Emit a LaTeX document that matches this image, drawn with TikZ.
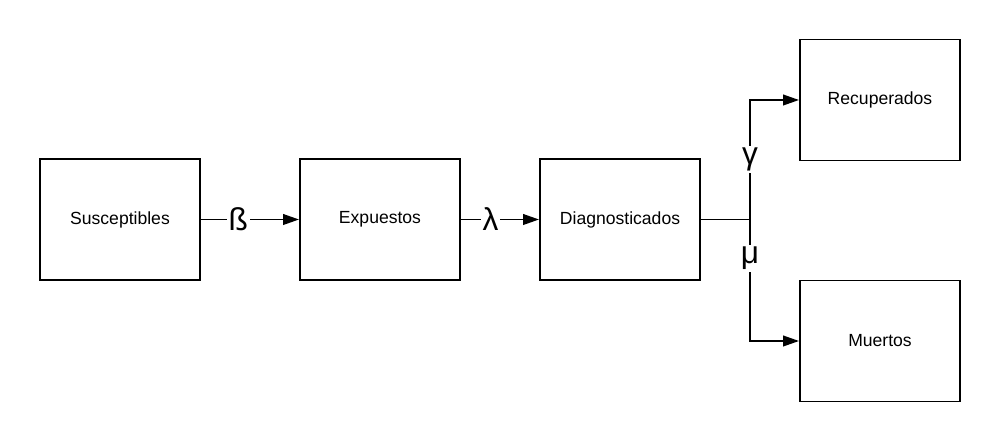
\documentclass[tikz,border=0pt]{standalone}
\usepackage{fontspec}
\setmainfont{Liberation Sans}
\usetikzlibrary{arrows.meta}
\tikzset{
  caja/.style={draw,line width=1.1pt,minimum width=3.2cm,minimum height=2.42cm,font=\fontsize{10}{12}\selectfont},
  flecha/.style={line width=1.05pt,-{Triangle[length=9pt,width=6pt]}},
  tasa/.style={fill=white,inner sep=1pt,font=\fontsize{18}{20}\selectfont}
}
\begin{document}
\begin{tikzpicture}
        \useasboundingbox (0,0) rectangle (20,8.84);
        \node[caja] (S) at (2.4,4.45) {Susceptibles};
        \node[caja] (E) at (7.6,4.45) {Expuestos};
        \node[caja] (D) at (12.4,4.45) {Diagnosticados};
        \node[caja] (R) at (17.6,6.84) {Recuperados};
        \node[caja] (M) at (17.6,2.02) {Muertos};
        \coordinate (J) at (15,4.45);
        \draw[flecha] (S) -- node[tasa,pos=0.38] {ß} (E);
        \draw[flecha] (E) -- node[tasa,pos=0.38] {λ} (D);
        \draw[line width=1.05pt] (D.east) -- (J);
        \draw[flecha] (J) |- node[tasa,pos=0.25] {γ} (R.west);
        \draw[flecha] (J) |- node[tasa,pos=0.16] {μ} (M.west);
\end{tikzpicture}
\end{document}
